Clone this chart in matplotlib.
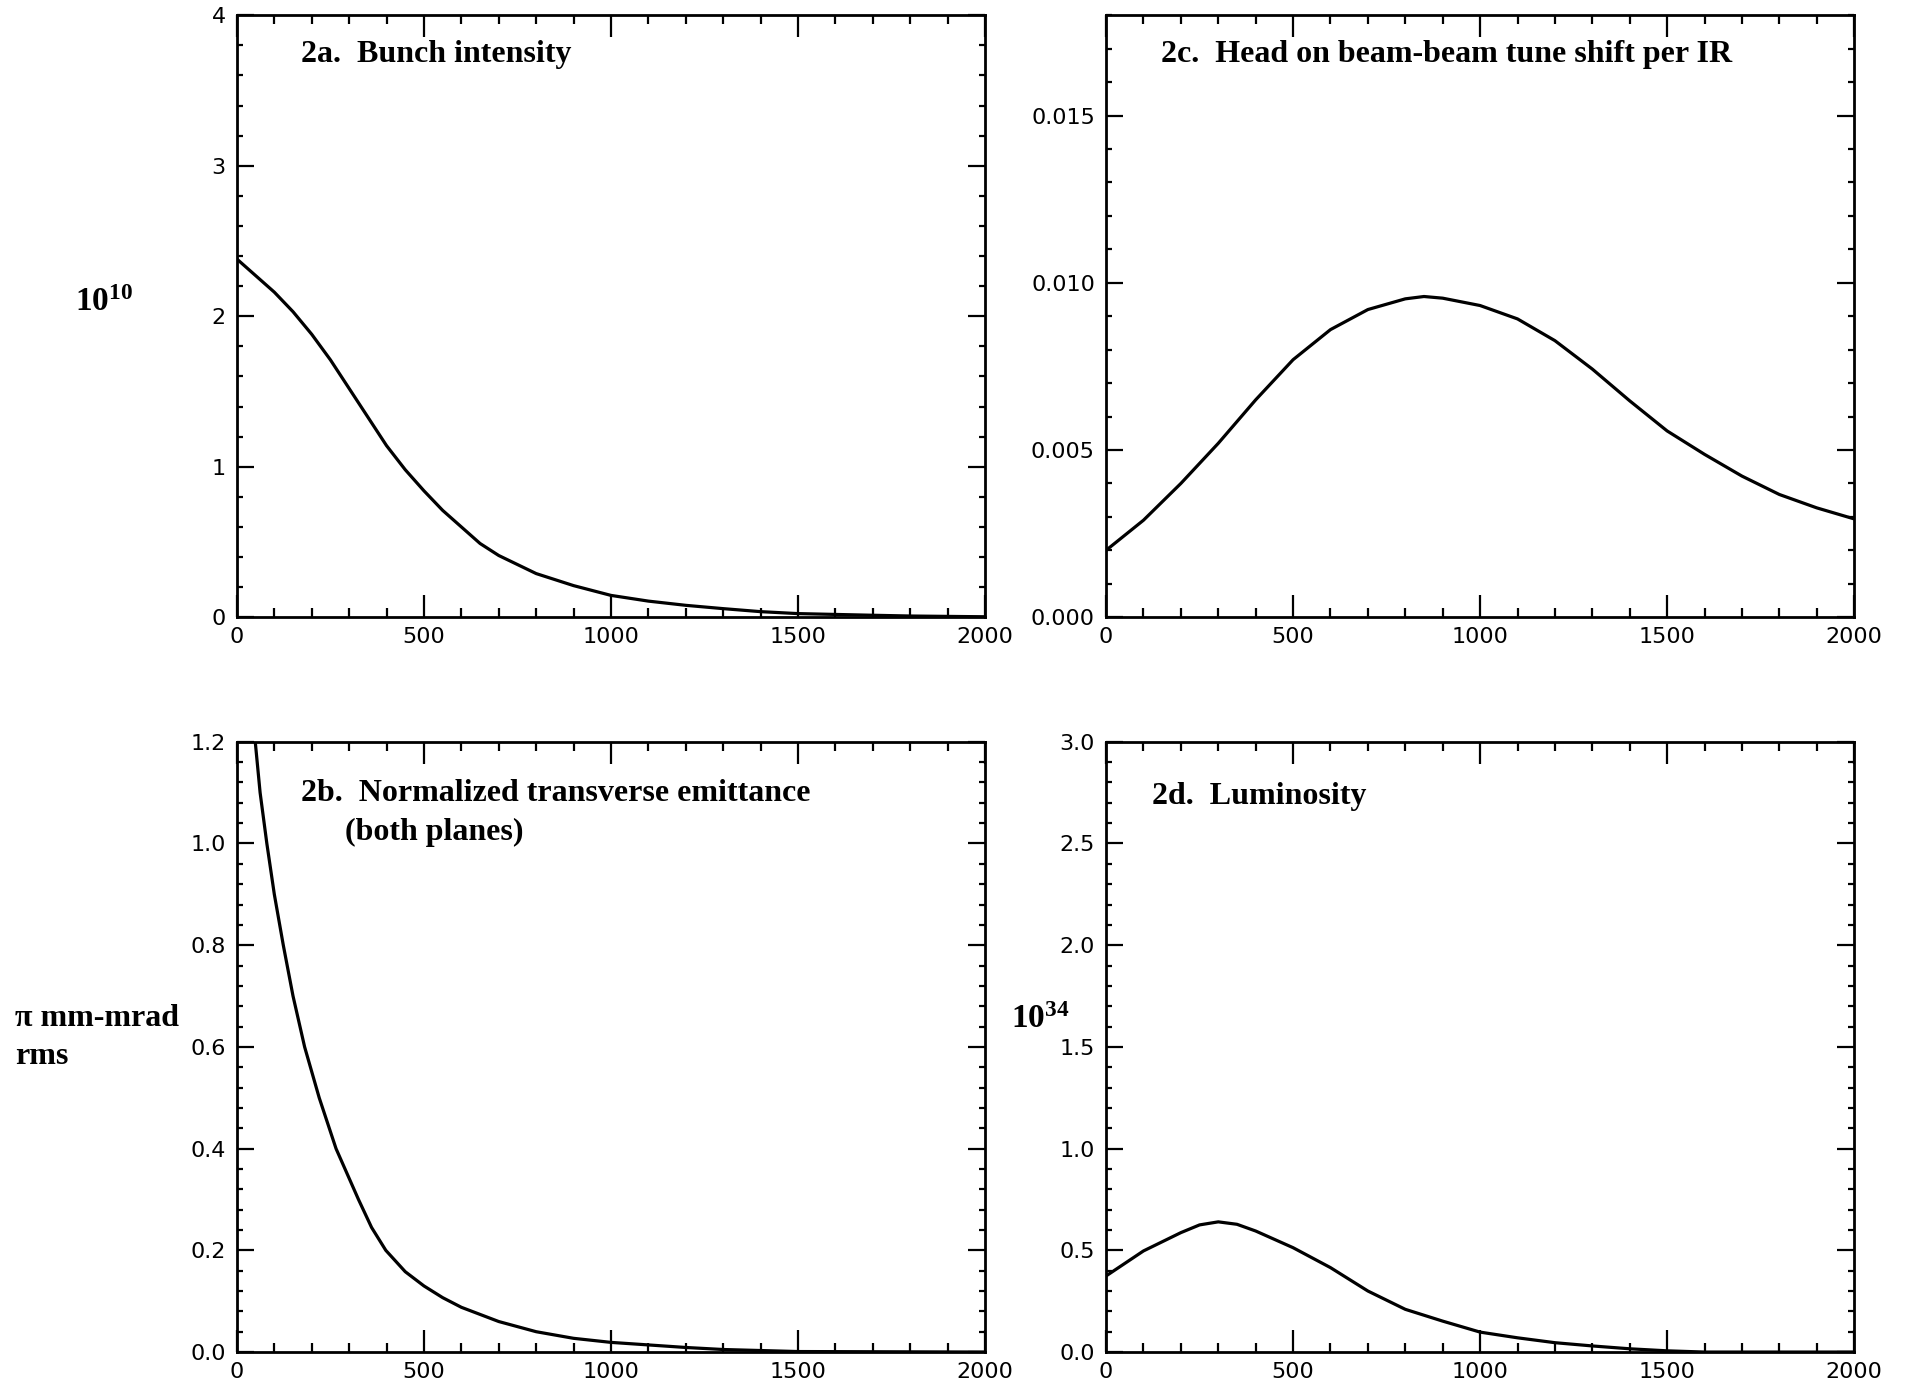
import matplotlib
matplotlib.use("Agg")
import matplotlib.pyplot as plt
from matplotlib.ticker import MultipleLocator, FormatStrFormatter

plt.rcParams['font.family'] = 'DejaVu Sans'
plt.rcParams['mathtext.fontset'] = 'custom'
plt.rcParams['mathtext.rm'] = 'Liberation Serif'
plt.rcParams['mathtext.bf'] = 'Liberation Serif:bold'

# 2a. bunch intensity (units of 1e10) vs time
t_a = [0, 50, 100, 150, 200, 250, 300, 350, 400, 450, 500, 550, 600, 650, 700, 800, 900, 1000,
       1100, 1200, 1300, 1400, 1500, 1700, 1800, 2000]
n_a = [2.38, 2.27, 2.16, 2.03, 1.88, 1.71, 1.52, 1.33, 1.14, 0.98, 0.84, 0.71, 0.60, 0.49, 0.41, 0.29, 0.21, 0.145,
       0.107, 0.079, 0.057, 0.037, 0.024, 0.013, 0.008, 0.003]

# 2b. normalized transverse emittance (pi mm-mrad rms)
t_b = [42, 49, 62, 80, 100, 124, 150, 181, 220, 265, 325, 360, 398, 450, 500, 550, 600, 700, 800, 900, 1000,
       1200, 1300, 1500, 2000]
e_b = [1.26, 1.20, 1.10, 1.00, 0.90, 0.80, 0.70, 0.60, 0.50, 0.40, 0.30, 0.245, 0.20, 0.158, 0.130, 0.107, 0.088,
       0.060, 0.040, 0.027, 0.019, 0.009, 0.005, 0.001, 0.0]

# 2c. head-on beam-beam tune shift per IR
t_c = [0, 100, 200, 300, 400, 500, 600, 700, 800, 850, 900, 1000, 1100, 1200, 1300, 1400, 1500,
       1600, 1700, 1800, 1900, 2000]
q_c = [0.0020, 0.0029, 0.0040, 0.0052, 0.0065, 0.0077, 0.0086, 0.0092, 0.00952, 0.00959, 0.00954, 0.00932,
       0.00892, 0.00827, 0.00742, 0.00647, 0.00557, 0.00487, 0.00422, 0.00367, 0.00327, 0.00294]

# 2d. luminosity (units of 1e34)
t_d = [0, 100, 200, 250, 300, 350, 400, 500, 600, 700, 800, 900, 1000, 1100, 1200, 1300, 1400, 1500, 1600, 2000]
l_d = [0.374, 0.497, 0.587, 0.625, 0.64, 0.628, 0.595, 0.513, 0.415, 0.30, 0.21, 0.152, 0.098, 0.070, 0.046,
       0.030, 0.016, 0.006, 0.0, 0.0]

fig = plt.figure(figsize=(19.06, 13.87), dpi=100)

ax_a = fig.add_axes([0.1243, 0.555, 0.3925, 0.434])
ax_c = fig.add_axes([0.5803, 0.555, 0.3925, 0.434])
ax_b = fig.add_axes([0.1243, 0.0252, 0.3925, 0.440])
ax_d = fig.add_axes([0.5803, 0.0252, 0.3925, 0.440])

title_kw = dict(family='Liberation Serif', weight='bold', fontsize=23, va='center', ha='left')


def style(ax, ymax, ymaj, ymin, fmt):
    ax.set_xlim(0, 2000)
    ax.set_ylim(0, ymax)
    ax.xaxis.set_major_locator(MultipleLocator(500))
    ax.xaxis.set_minor_locator(MultipleLocator(100))
    ax.yaxis.set_major_locator(MultipleLocator(ymaj))
    ax.yaxis.set_minor_locator(MultipleLocator(ymin))
    ax.yaxis.set_major_formatter(FormatStrFormatter(fmt))
    ax.tick_params(which='both', direction='in', top=True, right=True, width=1.6, labelsize=16)
    ax.tick_params(axis='x', which='major', length=16, pad=7)
    ax.tick_params(axis='x', which='minor', length=6.5)
    ax.tick_params(axis='y', which='major', length=12, pad=8)
    ax.tick_params(axis='y', which='minor', length=4.5)
    for s in ax.spines.values():
        s.set_linewidth(2.0)


ax_a.plot(t_a, n_a, color='black', lw=2.3)
style(ax_a, 4, 1, 0.2, '%d')
ax_a.text(0.086, 0.934, '2a.  Bunch intensity', transform=ax_a.transAxes, **title_kw)
ax_a.text(-0.217, 0.525, r'$\mathbf{10^{10}}$', transform=ax_a.transAxes, fontsize=24, ha='left', va='center')

ax_c.plot(t_c, q_c, color='black', lw=2.3)
style(ax_c, 0.018, 0.005, 0.001, '%.3f')
ax_c.text(0.073, 0.934, '2c.  Head on beam-beam tune shift per IR', transform=ax_c.transAxes, **title_kw)

ax_b.plot(t_b, e_b, color='black', lw=2.3)
style(ax_b, 1.2, 0.2, 0.04, '%.1f')
ax_b.text(0.086, 0.915, '2b.  Normalized transverse emittance', transform=ax_b.transAxes, **title_kw)
ax_b.text(0.145, 0.851, '(both planes)', transform=ax_b.transAxes, **title_kw)
ax_b.text(-0.297, 0.547, '\u03c0 mm-mrad', transform=ax_b.transAxes, **title_kw)
ax_b.text(-0.297, 0.485, 'rms', transform=ax_b.transAxes, **title_kw)

ax_d.plot(t_d, l_d, color='black', lw=2.3)
style(ax_d, 3.0, 0.5, 0.1, '%.1f')
ax_d.text(0.062, 0.911, '2d.  Luminosity', transform=ax_d.transAxes, **title_kw)
ax_d.text(-0.127, 0.547, r'$\mathbf{10^{34}}$', transform=ax_d.transAxes, fontsize=24, ha='left', va='center')

fig.savefig('out.png', dpi=100)
